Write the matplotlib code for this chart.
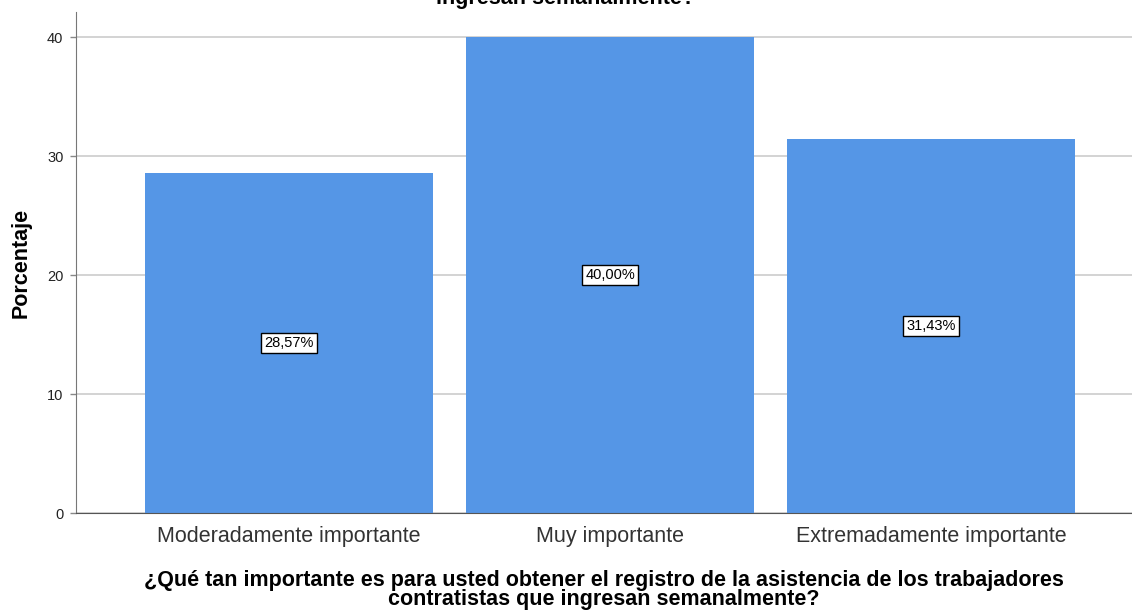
import matplotlib
matplotlib.use("Agg")
import matplotlib.pyplot as plt

categories = ["Moderadamente importante", "Muy importante", "Extremadamente importante"]
values = [28.57, 40.00, 31.43]
value_labels = ["28,57%", "40,00%", "31,43%"]
y_ticks = [0, 10, 20, 30, 40]

plt.rcParams['font.family'] = ['Liberation Sans', 'DejaVu Sans']

fig = plt.figure(figsize=(11.32, 6.10), dpi=100)
ax = fig.add_axes([0.0671, 0.159, 0.9329, 0.821])

x = list(range(len(categories)))
ax.bar(x, values, width=0.897, color="#5596E6", zorder=2)
for xi, v, lab in zip(x, values, value_labels):
    ax.text(xi, v / 2, lab, ha="center", va="center", fontsize=10.5, color="black", zorder=3,
            bbox=dict(boxstyle="square,pad=0.22", facecolor="white", edgecolor="black", linewidth=1))

ax.set_xlim(-0.664, 2.626)
ax.set_ylim(0, 42.1)
ax.set_yticks(y_ticks)
ax.set_yticklabels([str(t) for t in y_ticks], fontsize=10.5, color="#222222")
ax.set_xticks(x)
ax.set_xticklabels(categories, fontsize=15.5, color="#333333")
ax.tick_params(axis="x", length=0, pad=9)
ax.tick_params(axis="y", length=4, width=1, color="#888888", pad=5)
ax.yaxis.grid(True, color="#cccccc", linewidth=1.2, zorder=0)
ax.set_axisbelow(True)
for s in ["top", "right"]:
    ax.spines[s].set_visible(False)
ax.spines["left"].set_color("#777777")
ax.spines["bottom"].set_color("#555555")

ax.set_ylabel("Porcentaje", fontsize=15.5, fontweight="bold", labelpad=11)
ax.set_xlabel("¿Qué tan importante es para usted obtener el registro de la asistencia de los trabajadores\ncontratistas que ingresan semanalmente?",
              fontsize=15.5, fontweight="bold", labelpad=17, linespacing=0.85)

fig.text(0.5, 1 - 4 / 610, "¿Qué tan importante es para usted obtener el registro de la asistencia de los trabajadores contratistas que\ningresan semanalmente?",
         ha="center", va="baseline", fontsize=15.5, fontweight="bold", linespacing=0.85)

fig.savefig("out.png", dpi=100)
